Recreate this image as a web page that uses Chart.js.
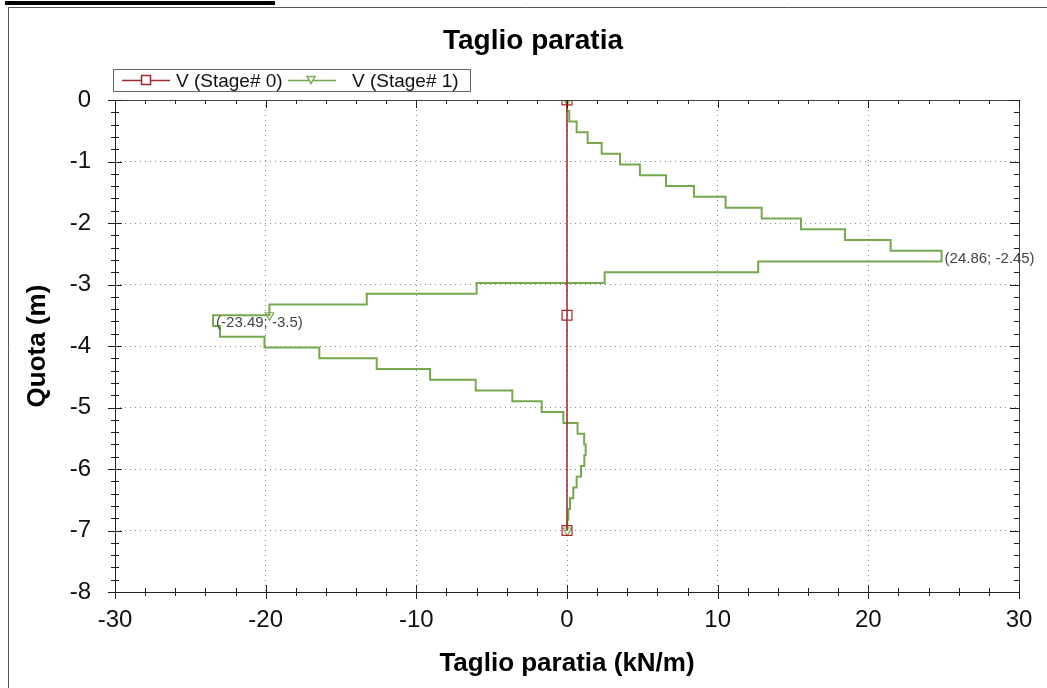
<!DOCTYPE html>
<html>
<head>
<meta charset="utf-8">
<script src="https://cdn.jsdelivr.net/npm/chart.js@4/dist/chart.umd.min.js"></script>
<style>
  html, body { margin: 0; padding: 0; background: #fff; }
  #wrap { position: relative; width: 1047px; height: 688px; }
</style>
</head>
<body>
<div id="wrap"><canvas id="shearChart" width="1047" height="688"></canvas></div>
<script>
  // ── Data ──
  // wall nodes (m), one element between two nodes
  var stage1Depth = [0, -0.175, -0.35, -0.525, -0.7, -0.875, -1.05, -1.225, -1.4, -1.575,
    -1.75, -1.925, -2.1, -2.275, -2.45, -2.625, -2.8, -2.975, -3.15, -3.325,
    -3.5, -3.675, -3.85, -4.025, -4.2, -4.375, -4.55, -4.725, -4.9, -5.075,
    -5.25, -5.425, -5.6, -5.775, -5.95, -6.125, -6.3, -6.475, -6.65, -6.825, -7.0];
  // shear in each element (kN/m), Stage# 1
  var stage1Shear = [0.00, 0.15, 0.64, 1.37, 2.30, 3.52, 4.84, 6.57, 8.43, 10.53,
    12.92, 15.53, 18.45, 21.48, 24.86, 12.69, 2.50, -6.00, -13.29, -19.75,
    -23.49, -23.03, -20.08, -16.44, -12.63, -9.09, -6.06, -3.63, -1.68, -0.24,
    0.70, 1.14, 1.24, 1.15, 0.93, 0.64, 0.42, 0.20, 0.09, 0.02];
  var stage1Markers = [0, 39, 79];

  // Stage# 0
  var stage0Depth = [0, -3.5, -7];
  var stage0Shear = [0, 0, 0];

  var xTicks = [-30, -20, -10, 0, 10, 20, 30];
  var yTicks = [0, -1, -2, -3, -4, -5, -6, -7, -8];
  var seriesNames = ['V (Stage# 0)', 'V (Stage# 1)'];

  var RED = '#a3272c';
  var GREEN = '#76a94e';
  var FONT = '"Liberation Sans", Arial, sans-serif';

  // step path: each element drawn as a vertical segment at its shear value
  function stepPoints(depth, shear) {
    var pts = [];
    for (var i = 0; i < shear.length; i++) {
      pts.push({ x: shear[i], y: depth[i] });
      pts.push({ x: shear[i], y: depth[i + 1] });
    }
    return pts;
  }

  var stage0Points = stage0Depth.map(function(d, i) { return { x: stage0Shear[i], y: d }; });
  var stage1Points = stepPoints(stage1Depth, stage1Shear);

  // ── Extras drawn on the canvas ──
  var extras = {
    id: 'extras',
    afterDraw: function(chart) {
      var ctx = chart.ctx;
      var a = chart.chartArea;
      var xs = chart.scales.x, ys = chart.scales.y;
      ctx.save();

      // header fragment and outer frame
      ctx.fillStyle = '#000';
      ctx.fillRect(5, 1, 270, 4);
      ctx.strokeStyle = '#555';
      ctx.lineWidth = 1;
      ctx.beginPath();
      ctx.moveTo(8.5, 688); ctx.lineTo(8.5, 7.5); ctx.lineTo(1047, 7.5);
      ctx.stroke();

      // title
      ctx.fillStyle = '#000';
      ctx.font = 'bold 28px ' + FONT;
      ctx.textAlign = 'center';
      ctx.textBaseline = 'alphabetic';
      ctx.fillText('Taglio paratia', 533, 49);

      // axis titles
      ctx.font = 'bold 26px ' + FONT;
      ctx.fillText('Taglio paratia (kN/m)', (a.left + a.right) / 2, 671);
      ctx.save();
      ctx.translate(45, (a.top + a.bottom) / 2);
      ctx.rotate(-Math.PI / 2);
      ctx.fillText('Quota (m)', 0, 0);
      ctx.restore();

      // plot frame
      ctx.strokeStyle = '#444';
      ctx.beginPath();
      ctx.moveTo(a.left, a.top + 0.5); ctx.lineTo(a.right + 0.5, a.top + 0.5); ctx.lineTo(a.right + 0.5, a.bottom);
      ctx.stroke();
      ctx.strokeStyle = '#222';
      ctx.beginPath();
      ctx.moveTo(a.left + 0.5, a.top); ctx.lineTo(a.left + 0.5, a.bottom + 0.5); ctx.lineTo(a.right + 1, a.bottom + 0.5);
      ctx.stroke();

      // tick marks: majors every label, minors at 2 kN/m and 0.2 m
      ctx.beginPath();
      var v, p, big;
      for (v = -30; v <= 30; v += 2) {
        p = Math.round(xs.getPixelForValue(v)) + 0.5;
        big = v % 10 === 0;
        ctx.moveTo(p, a.bottom - (big ? 7 : 4)); ctx.lineTo(p, a.bottom + (big ? 7 : 4));
        ctx.moveTo(p, a.top); ctx.lineTo(p, a.top + (big ? 8 : 4));
      }
      for (var j = 0; j <= 40; j++) {
        v = -j / 5;
        p = Math.round(ys.getPixelForValue(v)) + 0.5;
        big = j % 5 === 0;
        ctx.moveTo(a.left - (big ? 7 : 4), p); ctx.lineTo(a.left + (big ? 7 : 4), p);
        ctx.moveTo(a.right, p); ctx.lineTo(a.right - (big ? 9 : 5), p);
      }
      ctx.stroke();

      // min / max labels
      var iMax = 0, iMin = 0;
      stage1Shear.forEach(function(s, i) {
        if (s > stage1Shear[iMax]) iMax = i;
        if (s < stage1Shear[iMin]) iMin = i;
      });
      ctx.font = '15px ' + FONT;
      ctx.fillStyle = '#444';
      ctx.textAlign = 'left';
      ctx.textBaseline = 'middle';
      [iMax, iMin].forEach(function(i) {
        var px = xs.getPixelForValue(stage1Shear[i]);
        var py = ys.getPixelForValue(stage1Depth[i]);
        ctx.fillText('(' + stage1Shear[i] + '; ' + stage1Depth[i] + ')', px + 3, py + 8);
      });

      // legend
      ctx.strokeStyle = '#666';
      ctx.strokeRect(113.5, 69.5, 357, 22);
      var ly = 80.5;
      ctx.lineWidth = 1.5;
      ctx.strokeStyle = RED;
      ctx.beginPath(); ctx.moveTo(122, ly); ctx.lineTo(170, ly); ctx.stroke();
      ctx.fillStyle = '#fff';
      ctx.fillRect(141.5, ly - 5, 9, 9);
      ctx.strokeRect(141.5, ly - 5, 9, 9);
      ctx.strokeStyle = GREEN;
      ctx.beginPath(); ctx.moveTo(288, ly); ctx.lineTo(336, ly); ctx.stroke();
      ctx.beginPath();
      ctx.moveTo(307, ly - 4); ctx.lineTo(315, ly - 4); ctx.lineTo(311, ly + 3); ctx.closePath();
      ctx.fill(); ctx.stroke();
      ctx.fillStyle = '#111';
      ctx.font = '19px ' + FONT;
      ctx.fillText(seriesNames[0], 176, ly + 1);
      ctx.fillText(seriesNames[1], 352, ly + 1);

      ctx.restore();
    }
  };

  // ── Chart ──
  var ctx = document.getElementById('shearChart').getContext('2d');
  var chart = new Chart(ctx, {
    type: 'scatter',
    data: {
      datasets: [{
        label: seriesNames[0],
        data: stage0Points,
        showLine: true,
        borderColor: RED,
        borderWidth: 1.5,
        pointStyle: 'rect',
        pointRadius: 7,
        pointBorderWidth: 1.2,
        pointBorderColor: RED,
        pointBackgroundColor: 'rgba(0,0,0,0)'
      }, {
        label: seriesNames[1],
        data: stage1Points,
        showLine: true,
        borderColor: GREEN,
        borderWidth: 2,
        pointStyle: 'triangle',
        rotation: 180,
        pointRadius: function(c) { return stage1Markers.indexOf(c.dataIndex) >= 0 ? 5 : 0; },
        pointBorderWidth: 1.2,
        pointBorderColor: GREEN,
        pointBackgroundColor: 'rgba(0,0,0,0)'
      }]
    },
    options: {
      responsive: false,
      animation: false,
      layout: { padding: { top: 100, right: 28, bottom: 0, left: 0 } },
      plugins: { legend: { display: false }, tooltip: { enabled: false } },
      scales: {
        x: {
          type: 'linear', min: -30, max: 30,
          afterFit: function(s) { s.height = 96; },
          afterBuildTicks: function(s) { s.ticks = xTicks.map(function(v) { return { value: v }; }); },
          ticks: { font: { family: FONT, size: 24 }, color: '#111', padding: 14 },
          grid: { color: '#8a8a8a', drawTicks: false },
          border: { display: false, dash: [1, 4] }
        },
        y: {
          type: 'linear', min: -8, max: 0,
          afterFit: function(s) { s.width = 115; },
          afterBuildTicks: function(s) { s.ticks = yTicks.map(function(v) { return { value: v }; }); },
          ticks: { font: { family: FONT, size: 24 }, color: '#111', padding: 24 },
          grid: { color: '#8a8a8a', drawTicks: false },
          border: { display: false, dash: [1, 4] }
        }
      }
    },
    plugins: [extras]
  });
</script>
</body>
</html>
